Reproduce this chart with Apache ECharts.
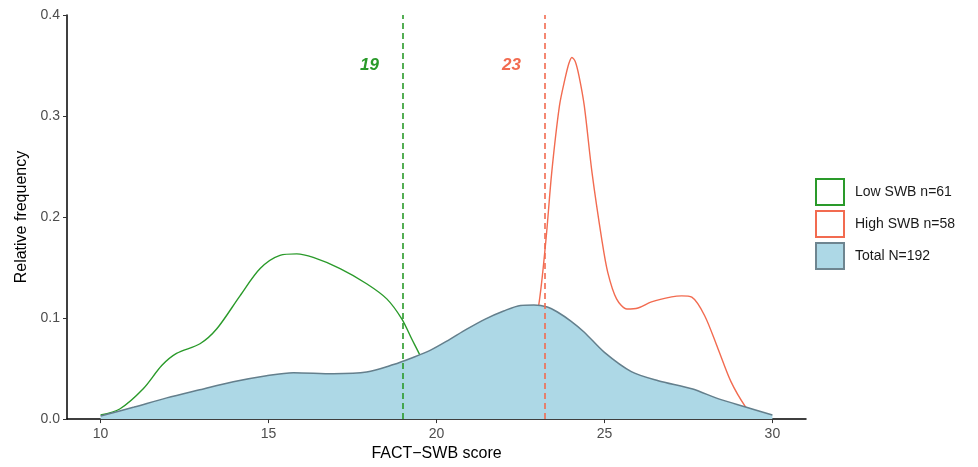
<!DOCTYPE html>
<html>
<head>
<meta charset="utf-8">
<script src="https://cdn.jsdelivr.net/npm/echarts@6/dist/echarts.min.js"></script>
<style>html,body{margin:0;padding:0;background:#fff;}#c{width:978px;height:467px;}</style>
</head>
<body>
<div id="c"></div>
<script>
// Data
var xTicks = [10, 15, 20, 25, 30];
var yTicks = [0, 0.1, 0.2, 0.3, 0.4];

var totalX = [10, 11.0, 11.97, 12.95, 13.95, 14.94, 15.74, 16.93, 17.92, 18.72, 19.3, 19.81, 20.35, 20.9, 21.45, 22.0, 22.5, 22.9, 23.3, 23.6, 24.0, 24.4, 25.0, 25.8, 26.6, 27.6, 28.4, 29.2, 30.0];
var totalY = [0.003, 0.012, 0.021, 0.029, 0.037, 0.043, 0.046, 0.045, 0.0466, 0.054, 0.061, 0.068, 0.078, 0.089, 0.099, 0.107, 0.1125, 0.113, 0.111, 0.106, 0.097, 0.086, 0.066, 0.047, 0.038, 0.030, 0.020, 0.012, 0.004];

var lowX = [10, 10.57, 11.27, 11.82, 12.26, 12.96, 13.46, 14.15, 14.75, 15.34, 15.84, 16.33, 17.13, 17.92, 18.52, 18.97, 19.26, 19.51, 19.8, 20.2, 20.7];
var lowY = [0.004, 0.010, 0.030, 0.053, 0.065, 0.0746, 0.0894, 0.122, 0.149, 0.162, 0.1635, 0.160, 0.149, 0.134, 0.119, 0.099, 0.0795, 0.063, 0.040, 0.020, 0.005];

var highX = [21.4, 21.9, 22.4, 22.8, 23.04, 23.26, 23.43, 23.66, 23.82, 23.94, 24.03, 24.13, 24.24, 24.40, 24.63, 24.92, 25.10, 25.36, 25.67, 26.0, 26.4, 27.0, 27.3, 27.6, 27.98, 28.38, 28.77, 29.2, 29.45];
var highY = [0.002, 0.015, 0.045, 0.080, 0.112, 0.178, 0.244, 0.310, 0.336, 0.352, 0.358, 0.354, 0.340, 0.310, 0.244, 0.178, 0.145, 0.119, 0.109, 0.110, 0.116, 0.121, 0.122, 0.1207, 0.1026, 0.0697, 0.0368, 0.012, 0.003];

var refLines = [19, 23.23];
var refLabels = ['19', '23'];
var refLabelPos = [[18.02, 0.35], [22.25, 0.35]];

var names = ['Low SWB n=61', 'High SWB n=58', 'Total N=192'];

function zip(a, b) { return a.map(function (v, i) { return [v, b[i]]; }); }

var GREEN = '#2A9A2A', RED = '#F26B50', FILL = '#ADD8E6', EDGE = '#647F8C';
var FONT = 'Liberation Sans, Arial, sans-serif';

var chart = echarts.init(document.getElementById('c'), null, {renderer: 'canvas'});
chart.setOption({
  animation: false,
  textStyle: {fontFamily: FONT},
  grid: {left: 67, right: 172, top: 15, bottom: 46.7, containLabel: false},
  xAxis: {
    type: 'value', min: 9, max: 31,
    name: 'FACT\u2212SWB score', nameLocation: 'middle', nameGap: 25,
    nameTextStyle: {fontSize: 16, color: '#000', fontFamily: FONT},
    axisLine: {show: true, onZero: false, lineStyle: {color: '#000', width: 1.5}},
    axisTick: {show: true, length: 4, customValues: xTicks, lineStyle: {color: '#333', width: 1}},
    axisLabel: {customValues: xTicks, color: '#4D4D4D', fontSize: 14, margin: 8, fontFamily: FONT},
    splitLine: {show: false}
  },
  yAxis: {
    type: 'value', min: 0, max: 0.4, interval: 0.1,
    name: 'Relative frequency', nameLocation: 'middle', nameGap: 37,
    nameTextStyle: {fontSize: 16, color: '#000', fontFamily: FONT},
    axisLine: {show: true, lineStyle: {color: '#000', width: 1.5}},
    axisTick: {show: true, length: 4, lineStyle: {color: '#333', width: 1}},
    axisLabel: {color: '#4D4D4D', fontSize: 14, margin: 7, fontFamily: FONT,
      formatter: function (v) { return v.toFixed(1); }},
    splitLine: {show: false}
  },
  legend: {
    orient: 'vertical', left: 815, top: 178, padding: 0,
    itemWidth: 28, itemHeight: 26, itemGap: 4,
    textStyle: {fontSize: 14, color: '#1A1A1A', fontFamily: FONT, padding: [0, 0, 0, 6]},
    data: [
      {name: names[0], icon: 'rect', itemStyle: {color: '#fff', borderColor: GREEN, borderWidth: 2}},
      {name: names[1], icon: 'rect', itemStyle: {color: '#fff', borderColor: RED, borderWidth: 2}},
      {name: names[2], icon: 'rect', itemStyle: {color: FILL, borderColor: '#6E8590', borderWidth: 2}}
    ]
  },
  series: [
    {
      name: names[0], type: 'line', smooth: 0.3, showSymbol: false, symbol: 'none',
      data: zip(lowX, lowY), z: 2,
      lineStyle: {color: GREEN, width: 1.4}, itemStyle: {color: GREEN}
    },
    {
      name: names[1], type: 'line', smooth: 0.3, showSymbol: false, symbol: 'none',
      data: zip(highX, highY), z: 2,
      lineStyle: {color: RED, width: 1.4}, itemStyle: {color: RED}
    },
    {
      name: names[2], type: 'line', smooth: 0.3, showSymbol: false, symbol: 'none',
      data: zip(totalX, totalY), z: 3,
      lineStyle: {color: EDGE, width: 1.5}, itemStyle: {color: FILL},
      areaStyle: {color: FILL, opacity: 1}
    },
    {
      name: 'ref', type: 'line', data: [], z: 5, silent: true,
      markLine: {
        silent: true, symbol: 'none', animation: false,
        label: {show: false},
        data: [
          {xAxis: refLines[0], lineStyle: {color: GREEN, type: [6, 4], width: 1.6}},
          {xAxis: refLines[1], lineStyle: {color: RED, type: [6, 4], width: 1.6}}
        ]
      }
    },
    {
      name: 'labels', type: 'scatter', symbolSize: 1, z: 6, silent: true,
      itemStyle: {opacity: 0},
      data: [
        {value: refLabelPos[0], label: {formatter: refLabels[0], color: GREEN}},
        {value: refLabelPos[1], label: {formatter: refLabels[1], color: RED}}
      ],
      label: {show: true, position: [0, 0], align: 'center', verticalAlign: 'middle',
        fontSize: 17, fontWeight: 'bold', fontStyle: 'italic', fontFamily: FONT, opacity: 1}
    }
  ]
});
</script>
</body>
</html>
